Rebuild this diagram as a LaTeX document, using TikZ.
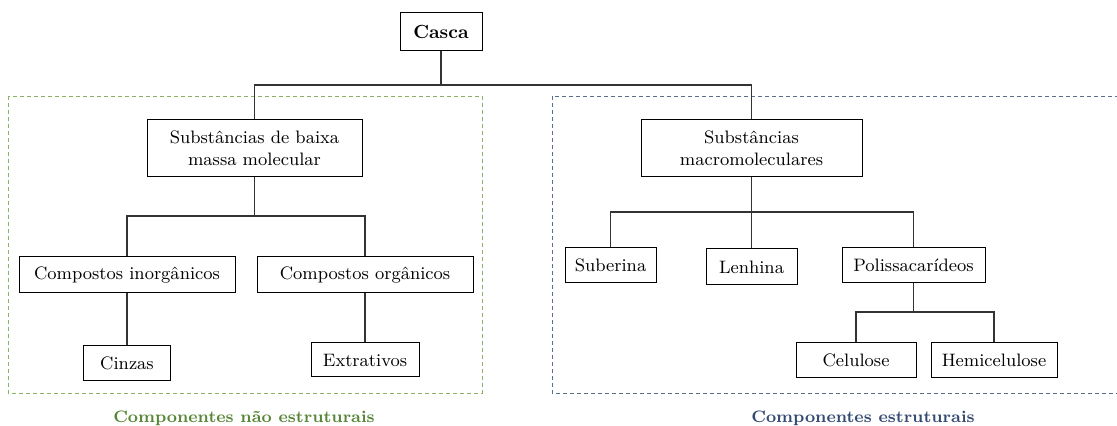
\documentclass[tikz,border=0pt]{standalone}
\usepackage{xcolor}
\usepackage{tikz}
\usetikzlibrary{calc}

\definecolor{naogreen}{RGB}{88,134,56}
\definecolor{naoframe}{RGB}{140,178,100}
\definecolor{estblue}{RGB}{52,74,112}
\definecolor{estframe}{RGB}{90,110,140}

\begin{document}
\begin{tikzpicture}[
      x=0.5pt, y=-0.5pt,
      box/.style={
            draw, rectangle, line width=0.5pt,
            inner sep=0pt, align=center, text=black,
            font=\fontsize{9}{11}\selectfont
        },
      link/.style={line width=0.6pt, black!80},
      frame/.style={dashed, line width=0.4pt, dash pattern=on 2pt off 1.5pt},
      grouplabel/.style={font=\fontsize{8.3}{10}\selectfont\bfseries}
      ]
    \useasboundingbox (0,0) rectangle (1117,426);

    % group frames
    \draw[frame, naoframe] (8,96) rectangle (482,393);
    \draw[frame, estframe] (552,96) rectangle (1130,393);
    \node[grouplabel, text=naogreen] (lblnao) at (244,418) {Componentes n\~ao estruturais};
    \node[grouplabel, text=estblue] (lblest) at (863,418) {Componentes estruturais};

    % boxes
    \node[box, minimum width=41pt, minimum height=19pt, font=\fontsize{9.5}{11}\selectfont\bfseries] (casca) at (441,32) {Casca};
    \node[box, minimum width=107.5pt, minimum height=28.5pt] (baixa) at (254.5,148.5) {Subst\^ancias de baixa\\massa molecular};
    \node[box, minimum width=110.5pt, minimum height=28.5pt] (macro) at (751.5,148.5) {Subst\^ancias\\macromoleculares};

    \node[box, minimum width=108pt, minimum height=18pt] (inorg) at (127,275) {Compostos inorg\^anicos};
    \node[box, minimum width=108pt, minimum height=18pt] (org) at (365,275) {Compostos org\^anicos};
    \node[box, minimum width=43.5pt, minimum height=17.5pt] (cinzas) at (127,363.5) {Cinzas};
    \node[box, minimum width=54pt, minimum height=17pt] (extr) at (365,360) {Extrativos};

    \node[box, minimum width=45.5pt, minimum height=17.5pt] (suber) at (610.5,265.5) {Suberina};
    \node[box, minimum width=45.5pt, minimum height=18pt] (lenh) at (751.5,267) {Lenhina};
    \node[box, minimum width=71.5pt, minimum height=17.5pt] (polis) at (913.5,265.5) {Polissacar\'ideos};
    \node[box, minimum width=60pt, minimum height=17.5pt] (celul) at (856,360.5) {Celulose};
    \node[box, minimum width=63pt, minimum height=17.5pt] (hemi) at (994,360.5) {Hemicelulose};

    % junctions
    \coordinate (jcasca) at (441,85);
    \coordinate (jbaixa) at (254.5,216);
    \coordinate (jmacro) at (751.5,212);
    \coordinate (jpolis) at (913.5,312);

    % connectors
    \draw[link] (casca) -- (jcasca);
    \draw[link] (baixa) |- (jcasca) -| (macro);

    \draw[link] (baixa) -- (jbaixa);
    \draw[link] (inorg) |- (jbaixa) -| (org);
    \draw[link] (inorg) -- (cinzas);
    \draw[link] (org) -- (extr);

    \draw[link] (macro) -- (lenh);
    \draw[link] (suber) |- (jmacro) -| (polis);

    \draw[link] (polis) -- (jpolis);
    \draw[link] (celul) |- (jpolis) -| (hemi);
  \end{tikzpicture}
\end{document}
